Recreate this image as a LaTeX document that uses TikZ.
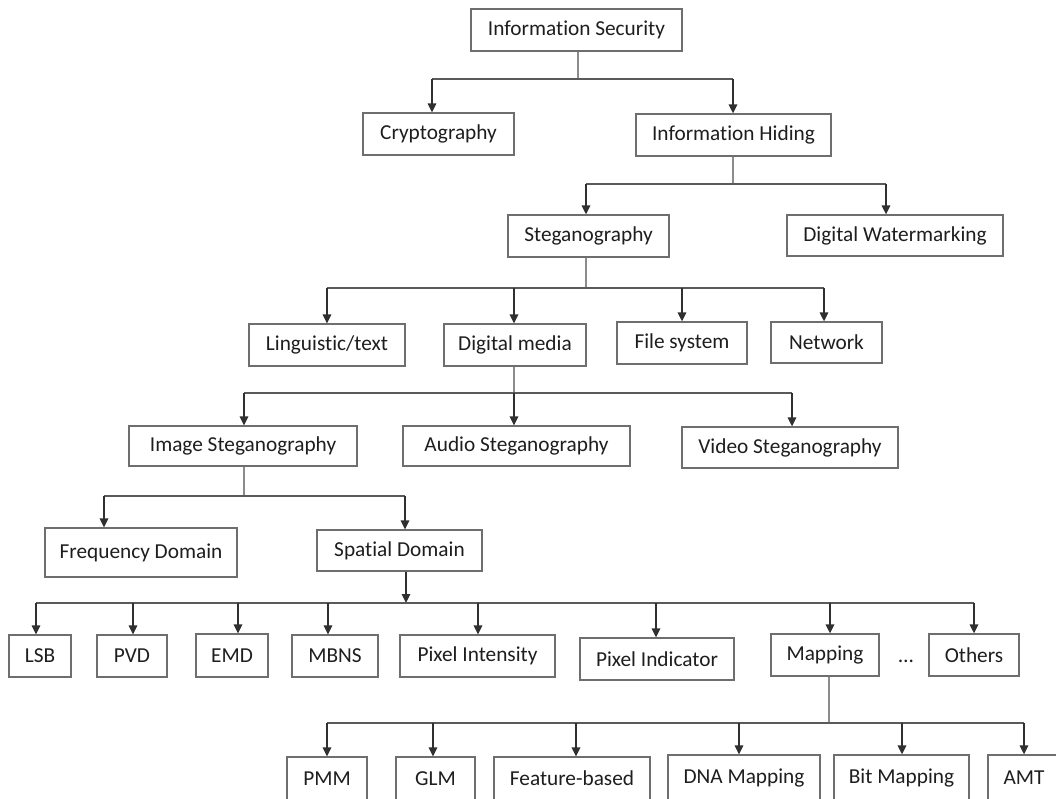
\documentclass[tikz,border=0pt]{standalone}
\usepackage{fontspec}
\setmainfont{Carlito}[Ligatures=NoCommon]
\usetikzlibrary{arrows.meta}
\definecolor{boxline}{HTML}{6E6E6E}
\definecolor{stemline}{HTML}{8C8C8C}
\definecolor{busline}{HTML}{5A5A5A}
\definecolor{arrline}{HTML}{303030}
\definecolor{txt}{HTML}{1E1E1E}
\tikzset{
  box/.style={draw=boxline, line width=1.3pt, rectangle, inner sep=0pt,
    text=txt, font=\fontsize{21.3}{25}\selectfont},
  stem/.style={draw=stemline, line width=1.3pt},
  bus/.style={draw=busline, line width=1.5pt},
  arr/.style={draw=arrline, line width=1.6pt, -{Triangle[length=9pt,width=8.5pt]}},
}
\newcommand{\bx}[6]{\node[box, minimum width=#4pt, minimum height=#5pt] (#1) at (#2,#3) {#6};}
\begin{document}
\begin{tikzpicture}[x=1pt,y=-1pt]
\useasboundingbox (0,0) rectangle (1056,798);
\fill[white] (0,0) rectangle (1056,798);
\begin{scope}
\clip (0,0) rectangle (1056,798);

% boxes, top to bottom
\bx{infosec}{576.5}{30}{211}{42}{Information Security}
\bx{crypto}{438.5}{134}{151}{42}{Cryptography}
\bx{hiding}{733.5}{135}{195}{42}{Information Hiding}
\bx{stego}{588.5}{236}{161}{42}{Steganography}
\bx{water}{895}{235.5}{216}{41}{Digital Watermarking}
\bx{ling}{327}{345}{156}{42}{Linguistic/text}
\bx{dmedia}{515}{345}{142}{42}{Digital media}
\bx{fsys}{682}{343}{130}{42}{File system}
\bx{net}{826.5}{342.5}{111}{41}{Network}
\bx{imgst}{243}{446}{228}{40}{Image Steganography}
\bx{audst}{516.5}{446}{227}{40}{Audio Steganography}
\bx{vidst}{790}{447.5}{216}{41}{Video Steganography}
\bx{freq}{141}{552.5}{192}{49}{Frequency Domain}
\bx{spat}{399.5}{550.5}{165}{41}{Spatial Domain}
\bx{lsb}{40}{656}{62}{42}{LSB}
\bx{pvd}{132}{656}{70}{42}{PVD}
\bx{emd}{232}{655.5}{72}{43}{EMD}
\bx{mbns}{335}{656}{86}{42}{MBNS}
\bx{pint}{477.5}{656}{155}{42}{Pixel Intensity}
\bx{pind}{657}{659}{154}{42}{Pixel Indicator}
\bx{mapp}{825}{655}{108}{42}{Mapping}
\bx{others}{974}{655}{90}{42}{Others}
\bx{pmm}{327}{778.5}{80}{43}{PMM}
\bx{glm}{435.5}{778.5}{79}{43}{GLM}
\bx{feat}{572}{778.5}{156}{43}{Feature-based}
\bx{dna}{744}{777.5}{152}{45}{DNA Mapping}
\bx{bitm}{901.5}{777.5}{135}{45}{Bit Mapping}
\bx{amt}{1024}{777.5}{72}{45}{AMT}
\node[text=txt, font=\fontsize{21.3}{25}\selectfont, anchor=base] (dots) at (906,662) {…};

% junction points on each bus line
\coordinate (j1) at (578,79);
\coordinate (j2) at (733,184);
\coordinate (j3) at (586,288);
\coordinate (j4) at (514,393);
\coordinate (j5) at (244,496);
\coordinate (j6) at (406,603);
\coordinate (j7) at (829,723);

% Information Security
\draw[stem] (j1 |- infosec.south) -- (j1);
\draw[bus] (432,79) -- (733,79);
\foreach \n/\x in {crypto/432, hiding/733}
  \draw[arr] (\x,79) -- (\n.north -| \x,79);

% Information Hiding
\draw[stem] (j2 |- hiding.south) -- (j2);
\draw[bus] (586,184) -- (886,184);
\foreach \n/\x in {stego/586, water/886}
  \draw[arr] (\x,184) -- (\n.north -| \x,184);

% Steganography
\draw[stem] (j3 |- stego.south) -- (j3);
\draw[bus] (327,288) -- (824,288);
\foreach \n/\x in {ling/327, dmedia/514, fsys/682, net/824}
  \draw[arr] (\x,288) -- (\n.north -| \x,288);

% Digital media
\draw[stem] (j4 |- dmedia.south) -- (j4);
\draw[bus] (244,393) -- (792,393);
\foreach \n/\x in {imgst/244, audst/514, vidst/792}
  \draw[arr] (\x,393) -- (\n.north -| \x,393);

% Image Steganography
\draw[stem] (j5 |- imgst.south) -- (j5);
\draw[bus] (104,496) -- (405,496);
\foreach \n/\x in {freq/104, spat/405}
  \draw[arr] (\x,496) -- (\n.north -| \x,496);

% Spatial Domain
\draw[arr] (j6 |- spat.south) -- (j6);
\draw[bus] (36,603) -- (974,603);
\foreach \n/\x in {lsb/36, pvd/133, emd/238, mbns/328, pint/478, pind/656, mapp/830, others/974}
  \draw[arr] (\x,603) -- (\n.north -| \x,603);

% Mapping
\draw[stem] (j7 |- mapp.south) -- (j7);
\draw[bus] (327,723) -- (1024,723);
\foreach \n/\x in {pmm/327, glm/433, feat/576, dna/739, bitm/902, amt/1024}
  \draw[arr] (\x,723) -- (\n.north -| \x,723);
\end{scope}
\end{tikzpicture}
\end{document}
